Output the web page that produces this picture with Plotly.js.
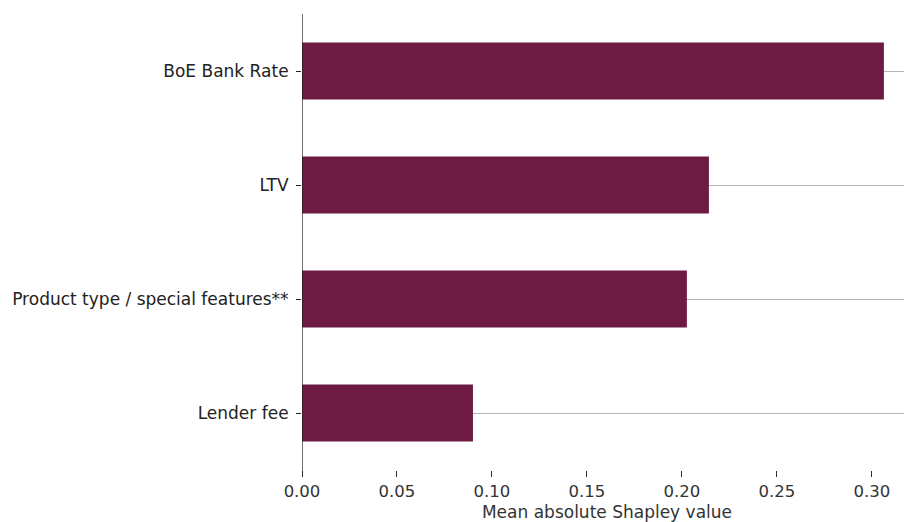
<!DOCTYPE html>
<html>
<head>
<meta charset="utf-8">
<script src="https://cdn.plot.ly/plotly-3.0.1.min.js"></script>
<style>
html, body { margin: 0; padding: 0; overflow: hidden; background: #fff; }
#chart { width: 912px; height: 522px; }
</style>
</head>
<body>
<div id="chart"></div>
<script>
const features = ["BoE Bank Rate", "LTV", "Product type / special features**", "Lender fee"];
const meanAbsShap = [0.3063, 0.2142, 0.2026, 0.0900];
const xTickVals = [0, 0.05, 0.10, 0.15, 0.20, 0.25, 0.30];
const xTickText = ["0.00", "0.05", "0.10", "0.15", "0.20", "0.25", "0.30"];

const fontFam = "DejaVu Sans, sans-serif";

Plotly.newPlot("chart", [{
  type: "bar",
  orientation: "h",
  x: meanAbsShap,
  y: features,
  width: 0.5,
  marker: { color: "#6e1b43", line: { width: 0 } },
  hoverinfo: "none"
}], {
  width: 912,
  height: 522,
  margin: { l: 302, r: 0, t: 14, b: 52 },
  paper_bgcolor: "#fff",
  plot_bgcolor: "#fff",
  showlegend: false,
  font: { family: fontFam, size: 17, color: "#333" },
  xaxis: {
    range: [0, 0.3211],
    tickvals: xTickVals,
    ticktext: xTickText,
    ticks: "outside",
    ticklen: 6,
    tickwidth: 1,
    tickcolor: "#333",
    showgrid: false,
    zeroline: false,
    showline: false,
    tickfont: { family: fontFam, size: 16.5, color: "#333" },
    title: { text: "Mean absolute Shapley value", font: { family: fontFam, size: 17, color: "#333" }, standoff: 12 },
    fixedrange: true
  },
  yaxis: {
    type: "category",
    categoryorder: "array",
    categoryarray: features,
    range: [3.5, -0.5],
    ticks: "outside",
    ticklen: 5,
    tickwidth: 1,
    tickcolor: "#222",
    ticklabelstandoff: 4,
    showgrid: true,
    gridcolor: "#b4b4b4",
    gridwidth: 1,
    zeroline: false,
    showline: false,
    tickfont: { family: fontFam, size: 17, color: "#222" },
    fixedrange: true
  },
  shapes: [{
    type: "line",
    xref: "x", yref: "paper",
    x0: 0, x1: 0,
    y0: -6 / 456, y1: 1,
    line: { color: "#222", width: 1.3 },
    layer: "above"
  }],
  bargap: 0.5
}, { staticPlot: true, displayModeBar: false });
</script>
</body>
</html>
